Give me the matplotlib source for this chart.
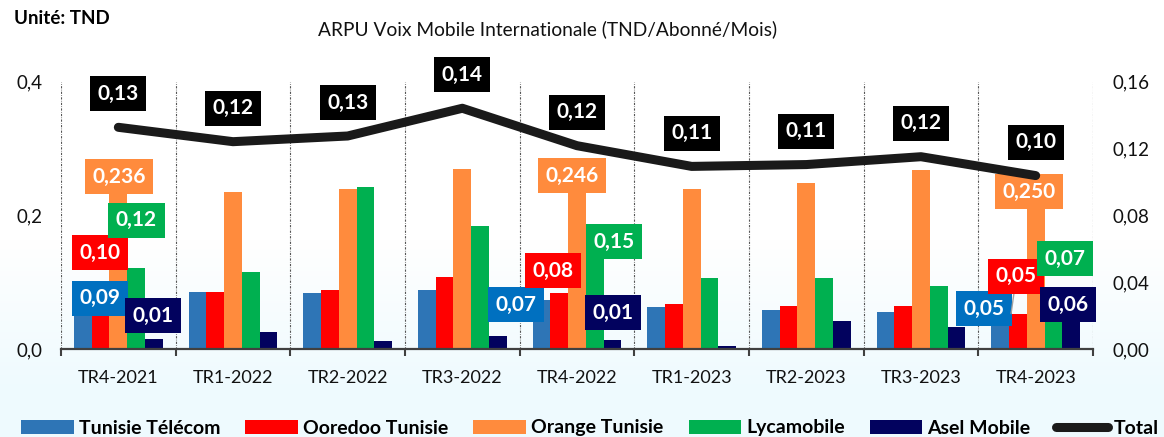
import numpy as np
import matplotlib
matplotlib.use("Agg")
import matplotlib.pyplot as plt
from matplotlib.patches import Rectangle
from matplotlib.lines import Line2D

plt.rcParams['font.family'] = ['Lato', 'DejaVu Sans']

# ---------------- data ----------------
quarters = ["TR4-2021", "TR1-2022", "TR2-2022", "TR3-2022", "TR4-2022",
            "TR1-2023", "TR2-2023", "TR3-2023", "TR4-2023"]
tunisie_telecom = [0.090, 0.085, 0.084, 0.088, 0.073, 0.0625, 0.059, 0.055, 0.050]
ooredoo = [0.100, 0.086, 0.088, 0.107, 0.084, 0.067, 0.065, 0.065, 0.053]
orange = [0.236, 0.235, 0.240, 0.270, 0.246, 0.239, 0.249, 0.268, 0.250]
lycamobile = [0.121, 0.1145, 0.243, 0.184, 0.150, 0.106, 0.1056, 0.095, 0.070]
asel = [0.0144, 0.026, 0.012, 0.019, 0.0139, 0.0045, 0.042, 0.033, 0.060]
total = [0.1327, 0.1241, 0.1275, 0.1441, 0.1217, 0.1093, 0.1104, 0.1151, 0.1038]

series_names = ["Tunisie Télécom", "Ooredoo Tunisie", "Orange Tunisie", "Lycamobile", "Asel Mobile"]
series_values = [tunisie_telecom, ooredoo, orange, lycamobile, asel]
bar_colors = ["#2E75B6", "#FF0000", "#FF8B3D", "#00B050", "#02025E"]
label_colors = ["#0070C0", "#FF0000", "#FF8B3D", "#00B050", "#02025E"]

# labelled quarters: (quarter index) -> per-series label placement (x offset, y in data units)
label_quarters = [0, 4, 8]
label_places = {
    0: [(-0.157, 0.0763), (-0.157, 0.144), (0.004, 0.2575), (0.158, 0.193), (0.306, 0.0499)],
    4: [(-0.529, 0.0663), (-0.213, 0.1172), (-0.041, 0.2593), (0.324, 0.1605), (0.310, 0.0539)],
    8: [(-0.450, 0.0602), (-0.168, 0.1090), (-0.056, 0.2350), (0.258, 0.1347), (0.284, 0.0659)],
}

W, H = 1164, 437
fig = plt.figure(figsize=(W / 100, H / 100), dpi=100)

# background gradient
bg = fig.add_axes([0, 0, 1, 1], zorder=-10)
n = 437
grad = np.ones((n, 1, 3))
top_c = np.array([1.0, 1.0, 1.0])
bot_c = np.array([0xEE, 0xFA, 0xFE]) / 255.0
for r in range(n):
    t = r / (n - 1)  # 0 top, 1 bottom
    f = np.clip((t - 0.55) / 0.35, 0, 1)
    grad[r, 0, :] = top_c * (1 - f) + bot_c * f
bg.imshow(grad, aspect='auto', extent=[0, 1, 0, 1])
bg.axis('off')

ax = fig.add_axes([61 / W, 1 - 349 / H, (1093 - 61) / W, (349 - 81.7) / H])
ax.set_facecolor('none')
x = np.arange(len(quarters))
bw = 0.1545
for k, (vals, col) in enumerate(zip(series_values, bar_colors)):
    ax.bar(x + (k - 2) * bw, vals, width=bw, color=col, zorder=3, label=series_names[k])

ax.set_xlim(-0.5, len(quarters) - 0.5)
ax.set_ylim(0, 0.4)
ax.vlines(np.arange(len(quarters) + 1) - 0.5, 0, 0.4, colors='#555555', lw=0.8,
          linestyles=(0, (2, 1.2, 0.6, 1.2)), zorder=1)

for s in ['top', 'left', 'right']:
    ax.spines[s].set_visible(False)
ax.spines['bottom'].set_color('#404040')
ax.spines['bottom'].set_linewidth(1.6)
ax.spines['bottom'].set_zorder(4)
ax.set_xticks(x)
ax.set_xticklabels(quarters)
ax.set_xticks(np.arange(len(quarters) + 1) - 0.5, minor=True)
ax.tick_params(axis='x', which='major', length=0, pad=15, labelsize=13, colors='#111111')
ax.tick_params(axis='x', which='minor', length=5, width=1.5, color='#404040')
ax.set_yticks([0, 0.2, 0.4])
ax.set_yticklabels(["0,0", "0,2", "0,4"])
ax.tick_params(axis='y', length=0, pad=13.5, labelsize=13.5, colors='#111111')

ax2 = ax.twinx()
ax2.set_facecolor('none')
ax2.set_ylim(0, 0.16)
for s in ax2.spines.values():
    s.set_visible(False)
ax2.set_yticks([0, 0.04, 0.08, 0.12, 0.16])
ax2.set_yticklabels(["0,00", "0,04", "0,08", "0,12", "0,16"])
ax2.tick_params(axis='y', length=0, pad=14, labelsize=13.5, colors='#111111')
ax2.plot(x, total, color='#1A1A1A', lw=6.5, solid_capstyle='round', solid_joinstyle='round', zorder=5)

def fmt(v, d):
    return f"{v:.{d}f}".replace('.', ',')

lab_font = dict(fontsize=15, fontweight='bold', color='white', ha='center', va='center')
for q in label_quarters:
    for k in range(5):
        dx, yy = label_places[q][k]
        d = 3 if k == 2 else 2
        txt = fmt(series_values[k][q], d)
        if q == 8 and k == 1:
            ax.annotate(txt, xy=(q + (k - 2) * bw - 0.06, series_values[k][q]), xytext=(q + dx, yy),
                        textcoords='data', zorder=8,
                        arrowprops=dict(arrowstyle='-', color='#A0A0A0', lw=1, shrinkA=0, shrinkB=0),
                        bbox=dict(boxstyle='square,pad=0.36', fc=label_colors[k], ec='none'),
                        **lab_font)
        else:
            ax.text(q + dx, yy, txt, zorder=8,
                    bbox=dict(boxstyle='square,pad=0.36', fc=label_colors[k], ec='none'),
                    **lab_font)

for i, v in enumerate(total):
    ax2.annotate(fmt(v, 2), xy=(i, v), xytext=(0, 24), textcoords='offset points',
                 zorder=9, bbox=dict(boxstyle='square,pad=0.36', fc='black', ec='none'),
                 **lab_font)

fig.text(14 / W, 1 - 19 / H, "Unité: TND", fontsize=13.5, fontweight='bold', ha='left', va='center')
fig.text(548 / W, 1 - 29 / H, "ARPU Voix Mobile Internationale (TND/Abonné/Mois)",
         fontsize=13.8, ha='center', va='center', color='#111111')

# legend
handles = [Rectangle((0, 0), 1, 1, fc=c, ec='none') for c in bar_colors]
handles.append(Line2D([0], [0], color='#1A1A1A', lw=6.5, solid_capstyle='round'))
leg = fig.legend(handles, series_names + ["Total"], ncol=6, loc='center left',
                 bbox_to_anchor=(21 / W, 1 - 428 / H), frameon=False,
                 prop=dict(size=14, weight='bold'), handlelength=2.7, handleheight=0.7,
                 handletextpad=0.26, columnspacing=1.3, borderpad=0, borderaxespad=0)

fig.savefig("out.png", dpi=100)
